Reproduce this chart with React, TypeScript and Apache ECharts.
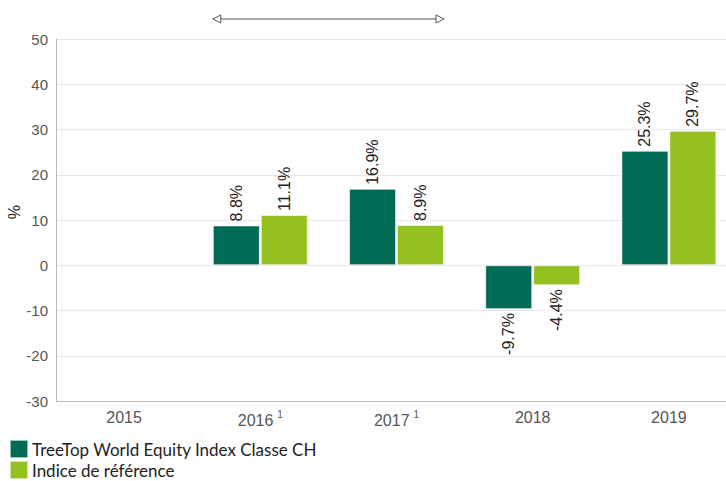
import React, { useEffect, useRef } from "react";
import * as echarts from "echarts";

const categories = ["2015", "2016", "2017", "2018", "2019"];
const superscripts: Record<string, string> = { "2016": "1", "2017": "1" };
const fundValues: (number | null)[] = [null, 8.8, 16.9, -9.7, 25.3];
const indexValues: (number | null)[] = [null, 11.1, 8.9, -4.4, 29.7];
const fundName = "TreeTop World Equity Index Classe CH";
const indexName = "Indice de référence";
const yMin = -30;
const yMax = 50;
const yInterval = 10;

const DARK = "#006b54";
const LIGHT = "#95c11f";
const BAR_W = 47;
const FONT = "'Liberation Sans', Arial, sans-serif";

function mkData(vals: (number | null)[]) {
  return vals.map((v) => {
    if (v === null) return null;
    if (v < 0) {
      return {
        value: v,
        label: { position: "bottom", align: "right", distance: 4 },
      };
    }
    return { value: v };
  });
}

const legendBase = {
  orient: "vertical",
  left: 9,
  padding: 0,
  itemWidth: 18,
  itemHeight: 18,
  icon: "rect",
  textStyle: { fontSize: 17, lineHeight: 18, fontFamily: "Lato, 'Open Sans', sans-serif", color: "#222", padding: [0, 0, 0, -1] },
};

export default function App() {
  const ref = useRef<HTMLDivElement>(null);
  useEffect(() => {
    if (!ref.current) return;
    const chart = echarts.init(ref.current, null, { renderer: "svg" });
    const labelCfg = {
      show: true,
      position: "top",
      rotate: 90,
      align: "left",
      verticalAlign: "middle",
      distance: 4,
      fontSize: 16,
      fontFamily: FONT,
      color: "#222",
      formatter: (p: any) => `${Number(p.value).toFixed(1)}%`,
    };
    chart.setOption({
      animation: false,
      grid: { left: 56, top: 39, bottom: 80, width: 681, containLabel: false, outerBoundsMode: "none" },
      legend: [
        { ...legendBase, top: 439, data: [fundName] },
        { ...legendBase, top: 460, data: [indexName] },
      ],
      xAxis: {
        type: "category",
        data: categories,
        axisLine: { show: true, onZero: false, lineStyle: { color: "#bbb" } },
        axisTick: { show: false },
        splitLine: { show: false },
        axisLabel: {
          margin: 8,
          formatter: (v: string) => (superscripts[v] ? `{a|${v}}{s|${superscripts[v]}}` : `{a|${v}}`),
          rich: {
            a: { fontSize: 16, color: "#555", fontFamily: FONT },
            s: { fontSize: 10, color: "#555", fontFamily: FONT, padding: [0, 0, 12, 4] },
          },
        },
      },
      yAxis: {
        type: "value",
        min: yMin,
        max: yMax,
        interval: yInterval,
        name: "%",
        nameLocation: "middle",
        nameRotate: 90,
        nameGap: 34,
        nameMoveOverlap: false,
        nameTextStyle: { fontSize: 16, color: "#222", fontFamily: FONT, padding: [0, 0, 0, 16] },
        axisLine: { show: true, lineStyle: { color: "#bbb" } },
        axisTick: { show: false },
        splitLine: { show: true, lineStyle: { color: "#e8e8e8" } },
        axisLabel: { fontSize: 15, color: "#555", margin: 8, fontFamily: FONT },
      },
      series: [
        {
          name: fundName,
          type: "bar",
          barWidth: BAR_W,
          barGap: "2%",
          data: mkData(fundValues),
          itemStyle: { color: DARK, borderColor: "rgba(255,255,255,0.6)", borderWidth: 1 },
          label: labelCfg,
        },
        {
          name: indexName,
          type: "bar",
          barWidth: BAR_W,
          barGap: "2%",
          data: mkData(indexValues),
          itemStyle: { color: LIGHT, borderColor: "rgba(255,255,255,0.6)", borderWidth: 1 },
          label: labelCfg,
        },
      ],
    });
    const c1 = chart.convertToPixel({ xAxisIndex: 0 }, "2016") as number;
    const c2 = chart.convertToPixel({ xAxisIndex: 0 }, "2017") as number;
    const x1 = c1 - BAR_W - 0.5;
    const x2 = c2 + BAR_W + 0.5;
    const y = 19;
    chart.setOption({
      graphic: [
        { type: "line", shape: { x1: x1 + 8, y1: y, x2: x2 - 8, y2: y }, style: { stroke: "#555", lineWidth: 1 } },
        { type: "polygon", shape: { points: [[x1, y], [x1 + 8, y - 4], [x1 + 8, y + 4]] }, style: { fill: "#fff", stroke: "#555", lineWidth: 1 } },
        { type: "polygon", shape: { points: [[x2, y], [x2 - 8, y - 4], [x2 - 8, y + 4]] }, style: { fill: "#fff", stroke: "#555", lineWidth: 1 } },
      ],
    });
    return () => chart.dispose();
  }, []);
  return <div ref={ref} style={{ width: 726, height: 481, position: "absolute", left: 0, top: 0 }} />;
}
